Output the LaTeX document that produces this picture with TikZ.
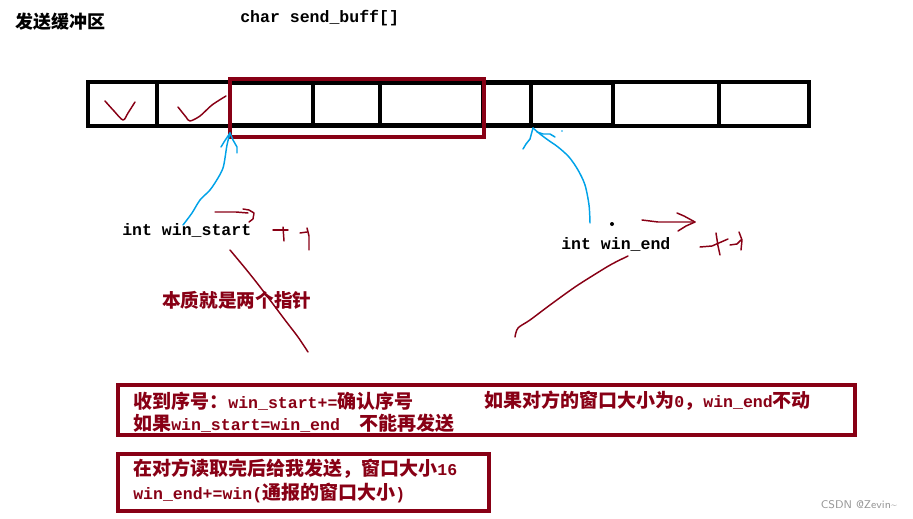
\documentclass[tikz,border=0pt]{standalone}
\usepackage{fontspec}
\setmainfont{Liberation Sans}
\setmonofont{Liberation Mono}
\newfontfamily\cjk{Noto Sans CJK SC}[Scale=1.15]
\newfontfamily\cjkn{Noto Sans CJK SC}
\definecolor{dred}{RGB}{136,0,21}
\definecolor{pblue}{RGB}{0,162,232}
\definecolor{wmgrey}{RGB}{150,150,150}
\tikzset{
  txt/.style={anchor=west, inner sep=0pt, font=\fontsize{12.4pt}{14pt}\selectfont\ttfamily\bfseries},
  redtxt/.style={txt, text=dred},
  cell/.style={line width=2.5pt, black},
  thick cell/.style={line width=3.6pt, black},
  winbox/.style={draw=dred, line width=2.6pt},
  hand/.style={line width=1.1pt, line cap=round, line join=round},
  redhand/.style={hand, dred},
  bluehand/.style={hand, pblue},
}
\begin{document}
\begin{tikzpicture}[x=0.75pt,y=-0.75pt]
\useasboundingbox (0,0) rectangle (913,518);
% titles
\node[txt, font=\fontsize{13.5pt}{15pt}\selectfont\cjkn\bfseries] (title) at (15,22) {发送缓冲区};
\node[txt] (arr) at (240,18) {char send\_buff[]};
% buffer
\draw[cell] (88,82) rectangle (809,126);
\draw[thick cell] (230,82.5) -- (615,82.5);
\draw[thick cell] (230,125.5) -- (615,125.5);
\foreach \xx in {157,230,313,380,483,531,613,719} \draw[cell] (\xx,82) -- (\xx,126);
% send window
\draw[winbox] (230,79) rectangle (484,137);
% check marks
\draw[redhand] plot[smooth] coordinates {(105,101) (114,111) (123,120) (128,113) (135,102)};
\draw[redhand] plot[smooth] coordinates {(178,107) (186,117) (190,121) (200,116) (212,105) (226,96)};
% pointer labels
\node[txt] (ws) at (122,230) {int win\_start};
\node[txt] (we) at (561,244) {int win\_end};
\coordinate (wsTip) at (230,133);
\coordinate (weTip) at (533,128);
% blue arrows
\draw[bluehand] plot[smooth] coordinates {(183,225) (192,213) (200,200) (210,190) (218,178) (223,168) (225,158) (227,145) (230,133)};
\draw[bluehand] (wsTip) -- (224,142) -- (221,147);
\draw[bluehand] (wsTip) -- (233,140) -- (237,147) -- (237,153);
\draw[bluehand] plot[smooth] coordinates {(590,223) (589,205) (585,185) (578,170) (569,157) (558,147) (548,140) (540,134) (533,128)};
\draw[bluehand] (weTip) -- (530,139) -- (526,144) -- (523,149);
\draw[bluehand] (537,132) -- (543,134) -- (550,134) -- (555,137);
\fill[pblue] (562,131) circle (0.8);
\fill[black] (612,224) circle (2);
% red arrows and ++
\draw[redhand] (215,212) -- (236,212) -- (248,213);
\draw[redhand] (243,209) -- (249,210) -- (254,213) -- (253,219) -- (249,222);
\draw[redhand] (273,230) -- (288,230);
\draw[redhand] (283,227) -- (284,241);
\draw[redhand] (300,233) -- (307,232);
\draw[redhand] (307,228) -- (309,236) -- (309,250);
\draw[redhand] (642,220) -- (658,222) -- (695,222);
\draw[redhand] (677,213) -- (684,216) -- (695,222) -- (686,226) -- (678,231);
\draw[redhand] (700,247) -- (712,246) -- (728,239);
\draw[redhand] (716,233) -- (718,246) -- (720,255);
\draw[redhand] (730,245) -- (737,244) -- (741,240);
\draw[redhand] (739,232) -- (742,240) -- (741,250);
% diagonal marks
\draw[redhand] plot[smooth] coordinates {(230,250) (245,268) (257,283) (270,300) (285,320) (298,337) (308,352)};
\draw[redhand] plot[smooth] coordinates {(628,256) (612,264) (597,273) (575,287) (550,305) (530,320) (518,328) (515,337)};
\node[redtxt, font=\fontsize{14pt}{16pt}\selectfont\cjkn\bfseries] (essence) at (162,300) {本质就是两个指针};
% box 1
\draw[winbox] (118,385) rectangle (855,435);
\node[redtxt] (b1a) at (133,401) {{\cjk 收到序号：}win\_start+={\cjk 确认序号}};
\node[redtxt] (b1b) at (484,401) {{\cjk 如果对方的窗口大小为}0{\cjk ，}win\_end{\cjk 不动}};
\node[redtxt] (b1c) at (133,423) {{\cjk 如果}win\_start=win\_end\hspace{14.85pt}{\cjk 不能再发送}};
% box 2
\draw[winbox] (118,454) rectangle (489,511);
\node[redtxt] (b2a) at (133,469) {{\cjk 在对方读取完后给我发送，窗口大小}16};
\node[redtxt] (b2b) at (133,493) {win\_end+=win({\cjk 通报的窗口大小})};
% watermark
\node[inner sep=0pt, text=wmgrey, font=\fontsize{8.4pt}{10pt}\selectfont\sffamily] (wm) at (859,505) {CSDN @Zevin\textasciitilde};
\end{tikzpicture}
\end{document}
